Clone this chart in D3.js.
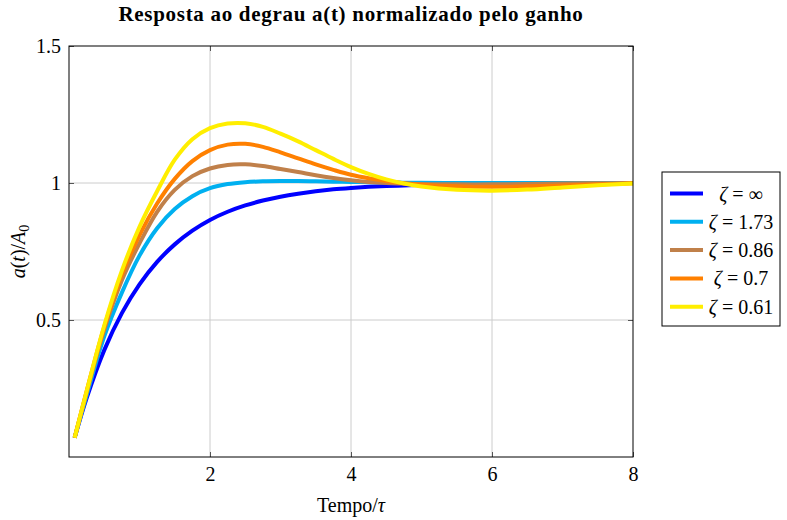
<!DOCTYPE html>
<html>
<head>
<meta charset="utf-8">
<script src="https://cdn.jsdelivr.net/npm/d3@7"></script>
<style>
  body { margin: 0; background: #fff; }
  svg text { font-family: "Liberation Serif", "DejaVu Serif", serif; fill: #000; }
</style>
</head>
<body>
<script>
// step response, normalised by gain

const times = [0.08, 0.25, 0.5, 0.75, 1, 1.25, 1.5, 1.75, 2, 2.25, 2.5, 2.75, 3, 3.25, 3.5, 3.75, 4, 4.25, 4.5, 4.75, 5, 5.5, 6, 6.5, 7, 7.5, 8];

const zetaInf = [0.07, 0.215, 0.39, 0.525, 0.63, 0.712, 0.776, 0.826, 0.865, 0.895, 0.918, 0.936, 0.95, 0.961, 0.97, 0.977, 0.982, 0.986, 0.989, 0.991, 0.993, 0.996, 0.997, 0.998, 0.999, 1.0, 1.0];
const zeta173 = [0.07, 0.225, 0.44, 0.60, 0.735, 0.835, 0.905, 0.952, 0.981, 0.996, 1.003, 1.006, 1.007, 1.007, 1.006, 1.005, 1.004, 1.003, 1.002, 1.001, 1.001, 1.0, 1.0, 1.0, 1.0, 1.0, 1.0];
const zeta086 = [0.07, 0.235, 0.465, 0.645, 0.78, 0.895, 0.975, 1.025, 1.053, 1.066, 1.068, 1.062, 1.051, 1.04, 1.028, 1.018, 1.01, 1.004, 1.0, 0.998, 0.996, 0.995, 0.995, 0.996, 0.998, 0.999, 1.0];
const zeta07 = [0.07, 0.24, 0.475, 0.665, 0.81, 0.925, 1.015, 1.08, 1.12, 1.14, 1.143, 1.132, 1.112, 1.09, 1.068, 1.048, 1.03, 1.017, 1.007, 0.999, 0.994, 0.988, 0.986, 0.988, 0.991, 0.995, 0.999];
const zeta061 = [0.07, 0.24, 0.48, 0.68, 0.84, 0.97, 1.085, 1.16, 1.20, 1.217, 1.218, 1.205, 1.18, 1.152, 1.12, 1.088, 1.058, 1.033, 1.013, 0.998, 0.987, 0.975, 0.972, 0.976, 0.984, 0.992, 0.998];

const legendLabels = ["∞", "1.73", "0.86", "0.7", "0.61"];
const colors = ["#0000ff", "#00b0f0", "#c0804a", "#ff8000", "#ffee00"];
const xTickValues = [2, 4, 6, 8];
const yTickValues = [0.5, 1, 1.5];

const seriesList = [zetaInf, zeta173, zeta086, zeta07, zeta061];

const width = 787;
const height = 520;
const plotLeft = 69, plotRight = 633, plotTop = 46, plotBottom = 457;

const xScale = d3.scaleLinear().domain([0, 8]).range([plotLeft, plotRight]);
const yScale = d3.scaleLinear().domain([0, 1.5]).range([plotBottom, plotTop]);

const svg = d3.select('body').append('svg')
  .attr('width', width)
  .attr('height', height)
  .attr('font-family', '"Liberation Serif", serif');

// grid
svg.append('g')
  .selectAll('line')
  .data([2, 4, 6])
  .enter()
  .append('line')
  .attr('x1', d => xScale(d)).attr('x2', d => xScale(d))
  .attr('y1', plotTop).attr('y2', plotBottom)
  .attr('stroke', '#cccccc').attr('stroke-width', 1);

svg.append('g')
  .selectAll('line')
  .data([0.5, 1])
  .enter()
  .append('line')
  .attr('x1', plotLeft).attr('x2', plotRight)
  .attr('y1', d => yScale(d)).attr('y2', d => yScale(d))
  .attr('stroke', '#cccccc').attr('stroke-width', 1);

// axes (ticks inside, mirrored)
const xAxis = d3.axisBottom(xScale).tickValues(xTickValues).tickSize(-5).tickPadding(10).tickFormat(d3.format('d'));
const xAxisTop = d3.axisTop(xScale).tickValues(xTickValues).tickSize(-5).tickFormat('');
const yAxis = d3.axisLeft(yScale).tickValues(yTickValues).tickSize(-5).tickPadding(8).tickFormat(d => d === 1 ? '1' : d3.format('.1f')(d));
const yAxisRight = d3.axisRight(yScale).tickValues(yTickValues).tickSize(-5).tickFormat('');

function styleAxis(g) {
  g.attr('font-family', null);
  g.select('.domain').remove();
  g.selectAll('.tick line').attr('stroke', '#555');
  g.selectAll('.tick text').style('font-size', '20px').attr('fill', '#000');
}

svg.append('g').attr('transform', `translate(0,${plotBottom})`).call(xAxis).call(styleAxis);
svg.append('g').attr('transform', `translate(0,${plotTop})`).call(xAxisTop).call(styleAxis);
svg.append('g').attr('transform', `translate(${plotLeft},0)`).call(yAxis).call(styleAxis);
svg.append('g').attr('transform', `translate(${plotRight},0)`).call(yAxisRight).call(styleAxis);

// curves
const line = d3.line()
  .x((d, i) => xScale(times[i]))
  .y(d => yScale(d))
  .curve(d3.curveCatmullRom.alpha(0.5));

svg.append('g')
  .selectAll('path')
  .data(seriesList)
  .enter()
  .append('path')
  .attr('d', d => line(d))
  .attr('fill', 'none')
  .attr('stroke', (d, i) => colors[i])
  .attr('stroke-width', 4);

// frame
svg.append('rect')
  .attr('x', plotLeft).attr('y', plotTop)
  .attr('width', plotRight - plotLeft).attr('height', plotBottom - plotTop)
  .attr('fill', 'none').attr('stroke', '#000').attr('stroke-width', 1);

// title
svg.append('text')
  .attr('x', (plotLeft + plotRight) / 2).attr('y', 21)
  .attr('text-anchor', 'middle')
  .style('font-size', '21px').style('font-weight', 'bold')
  .style('letter-spacing', '0.7px')
  .text('Resposta ao degrau a(t) normalizado pelo ganho');

// x label
svg.append('text')
  .attr('x', (plotLeft + plotRight) / 2).attr('y', 512)
  .attr('text-anchor', 'middle')
  .style('font-size', '20px')
  .html('Tempo/<tspan font-style="italic">τ</tspan>');

// y label
const yLab = svg.append('text')
  .attr('transform', `translate(25,${(plotTop + plotBottom) / 2}) rotate(-90)`)
  .attr('text-anchor', 'middle')
  .style('font-size', '20px');
yLab.append('tspan').attr('font-style', 'italic').text('a');
yLab.append('tspan').text('(');
yLab.append('tspan').attr('font-style', 'italic').text('t');
yLab.append('tspan').text(')/');
yLab.append('tspan').attr('font-style', 'italic').text('A');
yLab.append('tspan').attr('dy', 4).style('font-size', '14px').text('0');

// legend
const legend = svg.append('g');
legend.append('rect')
  .attr('x', 662).attr('y', 172)
  .attr('width', 118).attr('height', 154)
  .attr('fill', '#fff').attr('stroke', '#000').attr('stroke-width', 1);

const rows = legend.selectAll('g.row')
  .data(legendLabels)
  .enter()
  .append('g')
  .attr('class', 'row')
  .attr('transform', (d, i) => `translate(0,${193.5 + i * 28.3})`);

rows.append('line')
  .attr('x1', 670).attr('x2', 703)
  .attr('stroke', (d, i) => colors[i])
  .attr('stroke-width', 4);

rows.append('text')
  .attr('x', 741).attr('y', 7)
  .attr('text-anchor', 'middle')
  .style('font-size', '20px')
  .html(d => `<tspan font-style="italic">ζ</tspan> = ${d}`);
</script>
</body>
</html>
